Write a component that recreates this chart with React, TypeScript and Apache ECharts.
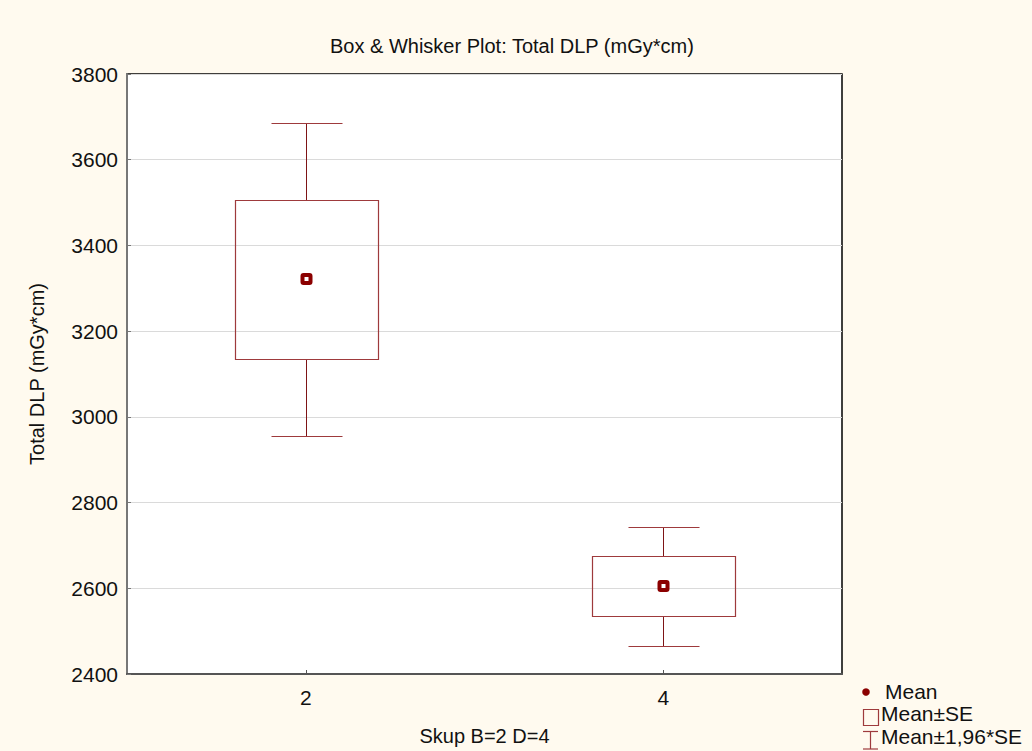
import React, { useEffect, useRef } from "react";
import * as echarts from "echarts";

const categories = ["2", "4"];
const meanValues = [3322, 2606];
const seLow = [3134, 2535];
const seHigh = [3506, 2676];
const ciLow = [2955, 2465];
const ciHigh = [3686, 2744];
const yMin = 2400;
const yMax = 3800;
const yStep = 200;

const FONT = "Liberation Sans, Arial, sans-serif";
const BOX = "#9E3A3C";
const STEM = "#7E1416";
const MEAN = "#8B0000";

function px(v: number) {
  return Math.round(v) + 0.5;
}

export default function App() {
  const ref = useRef<HTMLDivElement>(null);
  useEffect(() => {
    document.body.style.margin = "0";
    const chart = echarts.init(ref.current!, undefined, { renderer: "svg" });
    const data = categories.map((_, i) => [i, ciLow[i], seLow[i], meanValues[i], seHigh[i], ciHigh[i]]);
    chart.setOption({
      animation: false,
      backgroundColor: "#FFFAEF",
      textStyle: { fontFamily: FONT },
      grid: {
        left: 127,
        right: 190,
        top: 74,
        bottom: 74,
        show: true,
        backgroundColor: "#FFFFFF",
        borderColor: "#000000",
        borderWidth: 1.5,
      },
      xAxis: {
        type: "category",
        data: categories,
        boundaryGap: true,
        name: "Skup B=2 D=4",
        nameLocation: "middle",
        nameGap: 52,
        nameTextStyle: { fontSize: 20, color: "#111", fontFamily: FONT },
        axisLine: { show: true, lineStyle: { color: "#555", width: 2 } },
        axisTick: { show: true, inside: true, length: 4, alignWithLabel: true, lineStyle: { color: "#555" } },
        axisLabel: { fontSize: 21, color: "#111", margin: 13, fontFamily: FONT },
        splitLine: { show: false },
      },
      yAxis: {
        type: "value",
        min: yMin,
        max: yMax,
        interval: yStep,
        name: "Total DLP (mGy*cm)",
        nameLocation: "middle",
        nameGap: 80,
        nameTextStyle: { fontSize: 20, color: "#111", fontFamily: FONT },
        axisLine: { show: true, lineStyle: { color: "#777", width: 2 } },
        axisTick: { show: true, inside: true, length: 4, lineStyle: { color: "#777" } },
        axisLabel: {
          fontSize: 21,
          color: "#111",
          margin: 9,
          fontFamily: FONT,
          formatter: (v: number) => String(v),
        },
        splitLine: { show: true, lineStyle: { color: "#DADADA", width: 1 } },
      },
      title: {
        text: "Box & Whisker Plot: Total DLP (mGy*cm)",
        left: 325,
        top: 31,
        textStyle: { fontSize: 20, fontWeight: "normal", color: "#111", fontFamily: FONT },
      },
      series: [
        {
          type: "custom",
          data,
          encode: { x: 0, y: [1, 2, 3, 4, 5] },
          renderItem: (params: any, api: any) => {
            const cat = api.value(0);
            const band = api.size([1, 0])[0];
            const c = api.coord([cat, api.value(3)]);
            const cx = px(c[0]);
            const yWL = px(api.coord([cat, api.value(1)])[1]);
            const yBL = px(api.coord([cat, api.value(2)])[1]);
            const yM = Math.round(c[1]);
            const yBH = px(api.coord([cat, api.value(4)])[1]);
            const yWH = px(api.coord([cat, api.value(5)])[1]);
            const bw = band * 0.4;
            const cw = band * 0.2;
            const bx0 = px(cx - bw / 2);
            const bx1 = px(cx + bw / 2);
            const cx0 = px(cx - cw / 2);
            const cx1 = px(cx + cw / 2);
            const stemStyle = { stroke: STEM, lineWidth: 1 };
            const boxStyle = { stroke: BOX, lineWidth: 1.2 };
            return {
              type: "group",
              children: [
                { type: "line", shape: { x1: cx, y1: yWH, x2: cx, y2: yBH }, style: stemStyle },
                { type: "line", shape: { x1: cx, y1: yBL, x2: cx, y2: yWL }, style: stemStyle },
                { type: "line", shape: { x1: cx0, y1: yWH, x2: cx1, y2: yWH }, style: boxStyle },
                { type: "line", shape: { x1: cx0, y1: yWL, x2: cx1, y2: yWL }, style: boxStyle },
                {
                  type: "rect",
                  shape: { x: bx0, y: yBH, width: bx1 - bx0, height: yBL - yBH },
                  style: { fill: "none", stroke: BOX, lineWidth: 1.2 },
                },
                {
                  type: "rect",
                  shape: { x: cx - 4, y: yM - 4, width: 8, height: 8, r: 1 },
                  style: { fill: "#FFFFFF", stroke: MEAN, lineWidth: 4 },
                },
              ],
            };
          },
        },
      ],
      graphic: [
        { type: "circle", shape: { cx: 866, cy: 692, r: 3.8 }, style: { fill: MEAN } },
        {
          type: "text",
          left: 885,
          top: 681,
          style: { text: "Mean", fontSize: 21, fill: "#111", fontFamily: FONT },
        },
        {
          type: "rect",
          shape: { x: 863.5, y: 709.5, width: 15, height: 16 },
          style: { fill: "none", stroke: BOX, lineWidth: 1.2 },
        },
        {
          type: "text",
          left: 881,
          top: 703,
          style: { text: "Mean±SE", fontSize: 21, fill: "#111", fontFamily: FONT },
        },
        { type: "line", shape: { x1: 863, y1: 731.5, x2: 878, y2: 731.5 }, style: { stroke: BOX, lineWidth: 1.2 } },
        { type: "line", shape: { x1: 870.5, y1: 731.5, x2: 870.5, y2: 749 }, style: { stroke: BOX, lineWidth: 1.2 } },
        { type: "line", shape: { x1: 863, y1: 749, x2: 878, y2: 749 }, style: { stroke: BOX, lineWidth: 1.2 } },
        {
          type: "text",
          left: 881,
          top: 726,
          style: { text: "Mean±1,96*SE", fontSize: 21, fill: "#111", fontFamily: FONT },
        },
      ],
    });
    return () => chart.dispose();
  }, []);
  return <div ref={ref} style={{ width: 1032, height: 751 }} />;
}
